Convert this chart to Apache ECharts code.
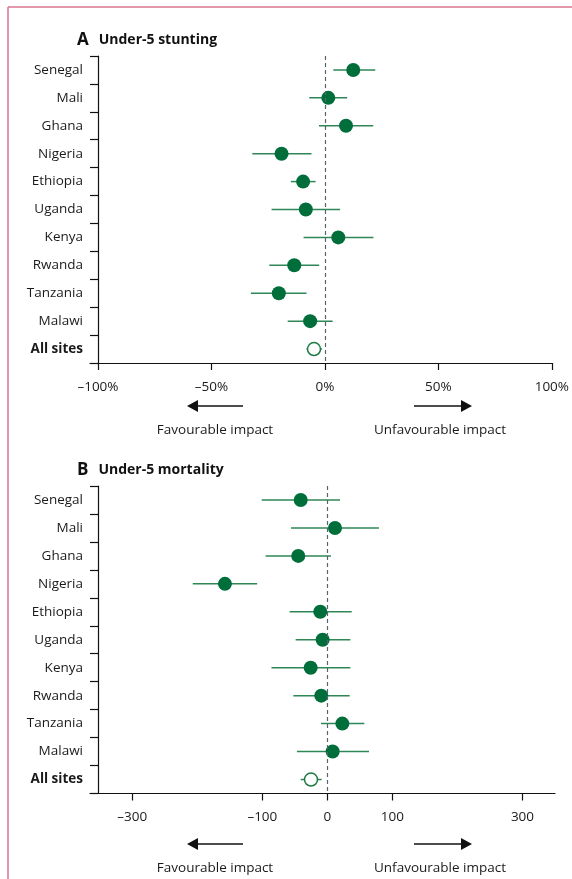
<!DOCTYPE html>
<html>
<head>
<meta charset="utf-8">
<script src="https://cdn.jsdelivr.net/npm/echarts@6/dist/echarts.min.js"></script>
<style>
html,body{margin:0;padding:0;background:#fff;}
#c{width:572px;height:879px;}
</style>
</head>
<body>
<div id="c"></div>
<script>
const countries = ['Senegal','Mali','Ghana','Nigeria','Ethiopia','Uganda','Kenya','Rwanda','Tanzania','Malawi','All sites'];
const stuntEst = [12.5, 1.5, 9.3, -19.1, -9.6, -8.4, 5.9, -13.5, -20.3, -6.5, -4.8];
const stuntLo  = [3.7, -6.9, -2.6, -32, -15, -23.5, -9.4, -24.5, -32.6, -16.4, -8.1];
const stuntHi  = [22.2, 9.8, 21.3, -5.9, -4.1, 6.7, 21.4, -2.5, -8.1, 3.4, -1.3];
const mortEst = [-41, 11.7, -44.8, -157.5, -10.9, -7.3, -25.7, -9.4, 23, 8.1, -25.2];
const mortLo  = [-101, -56, -95, -207, -58, -48.8, -86, -52.4, -9.8, -46.8, -41];
const mortHi  = [19.4, 79.4, 5.5, -108, 37.4, 35.3, 35.3, 34.3, 56.8, 64, -8.8];
const stuntTicks = [-100, -50, 0, 50, 100];
const mortTicks = [-300, -100, 0, 100, 300];

const FONT = '"Open Sans", "Noto Sans", sans-serif';
const GREEN = '#006e3a';
const LINEG = '#2f8657';
const TXT = '#1a1a1a';
const FS = 13.5;

function dash(v){ return (v < 0 ? '\u2013' : '') + Math.abs(v); }

function yAxisCfg(gi){
  return {
    type: 'category', gridIndex: gi, data: countries, inverse: true, offset: -8,
    axisLine: {show: true, onZero: false, lineStyle: {color: '#111', width: 1.2}},
    axisTick: {show: true, length: 8, inside: false, lineStyle: {color: '#111', width: 1.2}},
    axisLabel: {
      margin: 15, fontFamily: FONT, fontSize: FS, color: TXT,
      formatter: v => v === 'All sites' ? '{b|All sites}' : v,
      rich: {b: {fontWeight: 'bold', fontFamily: FONT, fontSize: FS, color: TXT}}
    },
    splitLine: {show: false}
  };
}
function xAxisCfg(gi, min, max, ticks, fmt){
  return {
    type: 'value', gridIndex: gi, min: min, max: max,
    axisLine: {show: true, onZero: false, lineStyle: {color: '#111', width: 1.2}},
    axisTick: {show: true, length: 7, customValues: ticks, lineStyle: {color: '#111', width: 1.2}},
    axisLabel: {show: true, customValues: ticks, formatter: fmt, margin: 17, fontFamily: FONT, fontSize: FS, color: TXT},
    splitLine: {show: false}
  };
}
function ciSeries(gi, lo, hi){
  return {
    type: 'custom', xAxisIndex: gi, yAxisIndex: gi, z: 2,
    data: countries.map((c, i) => [lo[i], hi[i], i]),
    encode: {x: [0, 1], y: 2},
    renderItem: (params, api) => {
      const a = api.coord([api.value(0), api.value(2)]);
      const b = api.coord([api.value(1), api.value(2)]);
      return {type: 'line', shape: {x1: a[0], y1: a[1], x2: b[0], y2: b[1]},
              style: {stroke: LINEG, lineWidth: 1.5}};
    }
  };
}
function ptSeries(gi, est){
  return {
    type: 'scatter', xAxisIndex: gi, yAxisIndex: gi, z: 3, symbolSize: 14,
    itemStyle: {color: GREEN, opacity: 1},
    data: countries.map((c, i) => {
      if (c === 'All sites') return {value: [est[i], i], symbolSize: 13,
        itemStyle: {color: '#fff', borderColor: '#1c7a45', borderWidth: 1.5}};
      return [est[i], i];
    }),
    markLine: {
      silent: true, symbol: 'none', label: {show: false},
      lineStyle: {color: '#56646e', type: [4, 3], width: 1.2},
      data: [{xAxis: 0}]
    }
  };
}
function arrows(yA, yT){
  return [
    {type: 'line', shape: {x1: 197, y1: yA, x2: 243, y2: yA}, style: {stroke: '#111', lineWidth: 1.5}},
    {type: 'polygon', shape: {points: [[187, yA], [198, yA - 6], [198, yA + 6]]}, style: {fill: '#111'}},
    {type: 'line', shape: {x1: 414, y1: yA, x2: 462, y2: yA}, style: {stroke: '#111', lineWidth: 1.5}},
    {type: 'polygon', shape: {points: [[472, yA], [461, yA - 6], [461, yA + 6]]}, style: {fill: '#111'}},
    {type: 'text', x: 215, y: yT, style: {text: 'Favourable impact', font: FS + 'px ' + FONT, fill: TXT, textAlign: 'center', textVerticalAlign: 'middle'}},
    {type: 'text', x: 440, y: yT, style: {text: 'Unfavourable impact', font: FS + 'px ' + FONT, fill: TXT, textAlign: 'center', textVerticalAlign: 'middle'}}
  ];
}

const chart = echarts.init(document.getElementById('c'), null, {renderer: 'canvas'});
chart.setOption({
  animation: false,
  backgroundColor: '#fff',
  title: [
    {left: 72, top: 26, text: '{l|A}  {t|Under-5 stunting}',
     textStyle: {rich: {l: {fontFamily: FONT, fontWeight: 'bold', fontSize: 17, color: '#111'}, t: {fontFamily: FONT, fontWeight: 'bold', fontSize: 14, color: '#111'}}}},
    {left: 72, top: 456, text: '{l|B}  {t|Under-5 mortality}',
     textStyle: {rich: {l: {fontFamily: FONT, fontWeight: 'bold', fontSize: 17, color: '#111'}, t: {fontFamily: FONT, fontWeight: 'bold', fontSize: 14, color: '#111'}}}}
  ],
  grid: [
    {left: 90, right: 20, top: 56, height: 307, containLabel: false},
    {left: 90, right: 17, top: 486, height: 307.5, containLabel: false}
  ],
  xAxis: [
    xAxisCfg(0, -103.5, 100, stuntTicks, v => dash(v) + '%'),
    xAxisCfg(1, -365, 350, mortTicks, v => dash(v))
  ],
  yAxis: [yAxisCfg(0), yAxisCfg(1)],
  series: [
    ciSeries(0, stuntLo, stuntHi), ptSeries(0, stuntEst),
    ciSeries(1, mortLo, mortHi), ptSeries(1, mortEst)
  ],
  graphic: [
    {type: 'line', shape: {x1: 8, y1: 7, x2: 572, y2: 7}, style: {stroke: '#d8758f', lineWidth: 1.5}},
    {type: 'line', shape: {x1: 8, y1: 7, x2: 8, y2: 879}, style: {stroke: '#d8758f', lineWidth: 1.5}}
  ].concat(arrows(406, 430), arrows(844, 868))
});
</script>
</body>
</html>
